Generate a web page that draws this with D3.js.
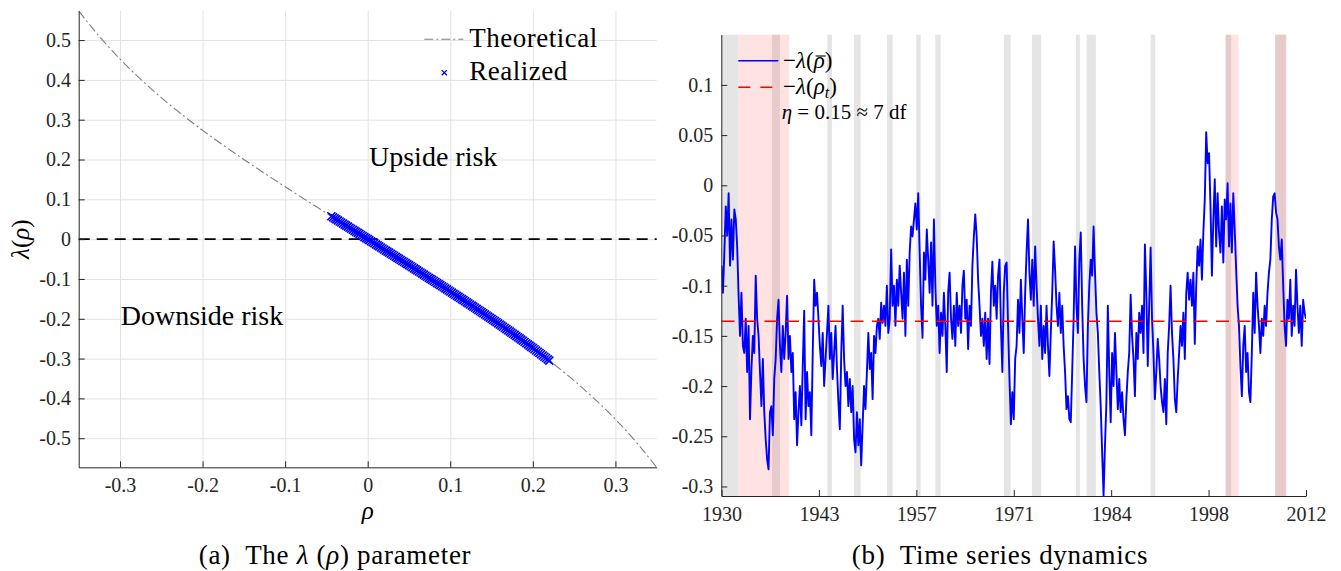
<!DOCTYPE html>
<html>
<head>
<meta charset="utf-8">
<script src="https://cdn.jsdelivr.net/npm/d3@7"></script>
<style>
body { margin: 0; background: #fff; }
svg { display: block; font-family: "Liberation Serif", "Times New Roman", serif; fill: #000; }
.axis text { font-size: 20px; fill: #262626; }
.axis path, .axis line { stroke: #262626; stroke-width: 1; }
.grid line { stroke: #e2e2e2; stroke-width: 1; }
.grid path { display: none; }
.it { font-style: italic; }
</style>
</head>
<body>
<svg id="chart" width="1341" height="571"></svg>
<script>
var serif = '"Liberation Serif", "Times New Roman", serif';

// ---- panel (a): lambda(rho) ----
var rhoTicks = [-0.3, -0.2, -0.1, 0, 0.1, 0.2, 0.3];
var rhoTickLabels = ["-0.3", "-0.2", "-0.1", "0", "0.1", "0.2", "0.3"];
var lamTicks = [-0.5, -0.4, -0.3, -0.2, -0.1, 0, 0.1, 0.2, 0.3, 0.4, 0.5];
var lamTickLabels = ["-0.5", "-0.4", "-0.3", "-0.2", "-0.1", "0", "0.1", "0.2", "0.3", "0.4", "0.5"];

var theoRho = [-0.35, -0.325, -0.3, -0.275, -0.25, -0.225, -0.2, -0.175, -0.15, -0.125, -0.1, -0.075, -0.05, -0.025, 0,
               0.025, 0.05, 0.075, 0.1, 0.125, 0.15, 0.175, 0.2, 0.225, 0.25, 0.275, 0.3, 0.325, 0.35];
var theoLambda = [0.5732, 0.5092, 0.4524, 0.4017, 0.3555, 0.3131, 0.2734, 0.2360, 0.2002, 0.1655, 0.1316, 0.0983, 0.0654, 0.0326, 0,
                  -0.0326, -0.0654, -0.0983, -0.1316, -0.1655, -0.2002, -0.2360, -0.2734, -0.3131, -0.3555, -0.4017, -0.4524, -0.5092, -0.5732];

var realRho = [-0.044, -0.042, -0.040, -0.038, -0.036, -0.034, -0.032, -0.030, -0.028, -0.026, -0.024, -0.022, -0.020, -0.018,
               -0.016, -0.014, -0.012, -0.010, -0.008, -0.006, -0.004, -0.002, 0, 0.002, 0.004, 0.006, 0.008, 0.010,
               0.012, 0.014, 0.016, 0.018, 0.020, 0.022, 0.024, 0.026, 0.028, 0.030, 0.032, 0.034, 0.036, 0.038,
               0.040, 0.042, 0.044, 0.046, 0.048, 0.050, 0.052, 0.054, 0.056, 0.058, 0.060, 0.062, 0.064, 0.066,
               0.068, 0.070, 0.072, 0.074, 0.076, 0.078, 0.080, 0.082, 0.084, 0.086, 0.088, 0.090, 0.092, 0.094,
               0.096, 0.098, 0.100, 0.102, 0.104, 0.106, 0.108, 0.110, 0.112, 0.114, 0.116, 0.118, 0.120, 0.122,
               0.124, 0.126, 0.128, 0.130, 0.132, 0.134, 0.136, 0.138, 0.140, 0.142, 0.144, 0.146, 0.148, 0.150,
               0.152, 0.154, 0.156, 0.158, 0.160, 0.162, 0.164, 0.166, 0.168, 0.170, 0.172, 0.174, 0.176, 0.178,
               0.180, 0.182, 0.184, 0.186, 0.188, 0.190, 0.192, 0.194, 0.196, 0.198, 0.200, 0.202, 0.204, 0.206,
               0.208, 0.210, 0.212, 0.214, 0.216, 0.218, 0.220];
var realLambda = [0.0575, 0.0549, 0.0523, 0.0497, 0.0470, 0.0444, 0.0418, 0.0392, 0.0366, 0.0340, 0.0313, 0.0287, 0.0261, 0.0235,
                  0.0209, 0.0183, 0.0157, 0.0131, 0.0104, 0.0078, 0.0052, 0.0026, 0, -0.0026, -0.0052, -0.0078, -0.0104, -0.0131,
                  -0.0157, -0.0183, -0.0209, -0.0235, -0.0261, -0.0287, -0.0313, -0.0340, -0.0366, -0.0392, -0.0418, -0.0444, -0.0470, -0.0497,
                  -0.0523, -0.0549, -0.0575, -0.0602, -0.0628, -0.0654, -0.0680, -0.0707, -0.0733, -0.0759, -0.0785, -0.0812, -0.0838, -0.0865,
                  -0.0891, -0.0918, -0.0944, -0.0971, -0.0997, -0.1024, -0.1050, -0.1077, -0.1103, -0.1130, -0.1156, -0.1183, -0.1209, -0.1236,
                  -0.1263, -0.1290, -0.1316, -0.1343, -0.1370, -0.1397, -0.1424, -0.1451, -0.1478, -0.1505, -0.1532, -0.1560, -0.1587, -0.1614,
                  -0.1641, -0.1669, -0.1696, -0.1724, -0.1751, -0.1779, -0.1806, -0.1834, -0.1862, -0.1890, -0.1918, -0.1946, -0.1974, -0.2002,
                  -0.2030, -0.2059, -0.2087, -0.2116, -0.2144, -0.2173, -0.2201, -0.2230, -0.2259, -0.2288, -0.2317, -0.2346, -0.2375, -0.2405,
                  -0.2434, -0.2464, -0.2493, -0.2523, -0.2553, -0.2583, -0.2613, -0.2644, -0.2674, -0.2704, -0.2734, -0.2766, -0.2797, -0.2828,
                  -0.2859, -0.2891, -0.2922, -0.2954, -0.2985, -0.3018, -0.3050];

// ---- panel (b): time series ----
var yearTicks = [1930, 1943.667, 1957.333, 1971, 1984.667, 1998.333, 2012];
var yearTickLabels = ["1930", "1943", "1957", "1971", "1984", "1998", "2012"];
var valTicks = [-0.3, -0.25, -0.2, -0.15, -0.1, -0.05, 0, 0.05, 0.1];
var valTickLabels = ["-0.3", "-0.25", "-0.2", "-0.15", "-0.1", "-0.05", "0", "0.05", "0.1"];

var seriesStart = 1930, seriesStep = 0.2;
var seriesValues = [
  -0.080,-0.107,-0.067,-0.021,-0.050, -0.008,-0.080,-0.034,-0.074,-0.024, -0.034,-0.061,-0.110,-0.150,-0.107,
  -0.160,-0.167,-0.133,-0.186,-0.140, -0.233,-0.183,-0.150,-0.167,-0.090, -0.133,-0.150,-0.186,-0.220,-0.173,
  -0.226,-0.253,-0.273,-0.283,-0.226, -0.220,-0.249,-0.193,-0.173,-0.133, -0.114,-0.160,-0.186,-0.140,-0.173,
  -0.147,-0.110,-0.173,-0.150,-0.186, -0.167,-0.233,-0.206,-0.259,-0.226, -0.200,-0.239,-0.180,-0.125,-0.233,
  -0.186,-0.220,-0.206,-0.249,-0.167, -0.094,-0.120,-0.107,-0.133,-0.160, -0.180,-0.147,-0.200,-0.173,-0.147,
  -0.120,-0.173,-0.147,-0.193,-0.167, -0.140,-0.183,-0.216,-0.243,-0.167, -0.120,-0.173,-0.200,-0.186,-0.220,
  -0.193,-0.226,-0.200,-0.253,-0.266, -0.226,-0.259,-0.233,-0.279,-0.239, -0.200,-0.223,-0.186,-0.147,-0.183,
  -0.167,-0.213,-0.150,-0.167,-0.140, -0.133,-0.153,-0.117,-0.137,-0.120, -0.140,-0.100,-0.147,-0.133,-0.064,
  -0.120,-0.100,-0.140,-0.094,-0.120, -0.080,-0.107,-0.133,-0.087,-0.150, -0.074,-0.120,-0.067,-0.041,-0.051,
  -0.034,-0.018,-0.044,-0.008,-0.067, -0.120,-0.152,-0.067,-0.094,-0.044, -0.074,-0.107,-0.057,-0.120,-0.034,
  -0.100,-0.140,-0.120,-0.167,-0.127, -0.150,-0.107,-0.140,-0.186,-0.107, -0.087,-0.133,-0.153,-0.120,-0.160,
  -0.107,-0.140,-0.120,-0.147,-0.100, -0.085,-0.133,-0.114,-0.163,-0.120, -0.140,-0.080,-0.051,-0.029,-0.051,
  -0.094,-0.120,-0.150,-0.133,-0.160, -0.127,-0.173,-0.133,-0.178,-0.107, -0.076,-0.120,-0.100,-0.133,-0.090,
  -0.074,-0.140,-0.186,-0.107,-0.080, -0.077,-0.140,-0.193,-0.238,-0.206, -0.233,-0.173,-0.160,-0.114,-0.147,
  -0.094,-0.133,-0.167,-0.107,-0.067, -0.034,-0.087,-0.114,-0.074,-0.120, -0.061,-0.100,-0.133,-0.160,-0.120,
  -0.173,-0.140,-0.167,-0.120,-0.160, -0.190,-0.147,-0.107,-0.056,-0.084, -0.120,-0.140,-0.107,-0.147,-0.120,
  -0.160,-0.186,-0.223,-0.210,-0.233, -0.236,-0.186,-0.133,-0.061,-0.120, -0.147,-0.074,-0.047,-0.120,-0.173,
  -0.200,-0.216,-0.140,-0.100,-0.074, -0.090,-0.041,-0.087,-0.127,-0.147, -0.186,-0.220,-0.266,-0.309,-0.259,
  -0.216,-0.120,-0.186,-0.236,-0.167, -0.200,-0.147,-0.186,-0.223,-0.193, -0.226,-0.206,-0.233,-0.249,-0.213,
  -0.186,-0.167,-0.109,-0.150,-0.173, -0.210,-0.147,-0.173,-0.127,-0.147, -0.120,-0.167,-0.059,-0.107,-0.180,
  -0.120,-0.062,-0.133,-0.167,-0.213, -0.186,-0.153,-0.173,-0.200,-0.216, -0.226,-0.193,-0.238,-0.167,-0.140,
  -0.100,-0.147,-0.173,-0.213,-0.226, -0.193,-0.167,-0.140,-0.160,-0.127, -0.173,-0.107,-0.087,-0.114,-0.094,
  -0.120,-0.087,-0.158,-0.100,-0.061, -0.080,-0.054,-0.094,-0.047,-0.014, 0.053,0.022,0.032,-0.021,-0.090,
  -0.034,0.006,-0.061,-0.008,-0.047, -0.067,-0.021,-0.077,-0.014,-0.034, 0.002,-0.061,-0.018,-0.067,-0.008,
  -0.044,-0.084,-0.120,-0.140,-0.180, -0.210,-0.160,-0.140,-0.186,-0.167, -0.206,-0.216,-0.167,-0.107,-0.147,
  -0.087,-0.120,-0.140,-0.167,-0.133, -0.150,-0.120,-0.140,-0.107,-0.087, -0.074,-0.034,-0.011,-0.008,-0.027,
  -0.034,-0.061,-0.074,-0.054,-0.100, -0.140,-0.160,-0.114,-0.133,-0.094, -0.150,-0.120,-0.140,-0.084,-0.120,
  -0.147,-0.120,-0.160,-0.114,-0.127, -0.133
];
var lambdaRhoT = -0.1355;

// recession shading (start, end) in years
var grayBands = [[1930, 1932.35], [1937.08, 1938.2], [1944.84, 1945.5], [1948.58, 1949.52], [1953.21, 1954.01],
                 [1957.32, 1957.94], [1959.99, 1960.74], [1969.62, 1970.56], [1973.55, 1974.85], [1979.71, 1980.27],
                 [1981.22, 1982.52], [1990.2, 1990.84], [2000.71, 2001.5], [2007.67, 2009.17]];
var pinkBands = [[1932.36, 1939.5], [2000.71, 2002.54], [2007.67, 2009.27]];

var svg = d3.select("#chart");
svg.append("rect").attr("width", 1341).attr("height", 571).attr("fill", "#fff");

// ================= panel (a) =================
var xL = d3.scaleLinear().domain([-0.35, 0.35]).range([78.7, 656.7]),
    yL = d3.scaleLinear().domain([-0.573, 0.573]).range([467.3, 11]);

var gA = svg.append("g");

gA.append("g")
    .attr("class", "grid")
    .attr("transform", "translate(0,467.3)")
    .call(d3.axisBottom(xL).tickValues(rhoTicks).tickSize(-(467.3 - 11)).tickFormat(""));
gA.append("g")
    .attr("class", "grid")
    .attr("transform", "translate(78.7,0)")
    .call(d3.axisLeft(yL).tickValues(lamTicks).tickSize(-(656.7 - 78.7)).tickFormat(""));

// zero line
gA.append("line")
    .attr("x1", xL(-0.35)).attr("x2", xL(0.35))
    .attr("y1", yL(0)).attr("y2", yL(0))
    .attr("stroke", "#000").attr("stroke-width", 1.6)
    .attr("stroke-dasharray", "11,7");

// theoretical curve
var theo = theoRho.map(function(r, i) { return [r, theoLambda[i]]; });
gA.append("path")
    .datum(theo)
    .attr("fill", "none")
    .attr("stroke", "#7f7f7f")
    .attr("stroke-width", 1.1)
    .attr("stroke-dasharray", "9,3,2,3")
    .attr("d", d3.line().curve(d3.curveMonotoneX)
        .x(function(d) { return xL(d[0]); })
        .y(function(d) { return yL(d[1]); }));

// realized points as x markers
var cross = function(s) { return "M" + (-s) + "," + (-s) + "L" + s + "," + s + "M" + (-s) + "," + s + "L" + s + "," + (-s); };
gA.selectAll(".real")
    .data(realRho.map(function(r, i) { return [r, realLambda[i]]; }))
    .enter().append("path")
    .attr("class", "real")
    .attr("transform", function(d) { return "translate(" + xL(d[0]) + "," + yL(d[1]) + ")"; })
    .attr("d", cross(4))
    .attr("stroke", "#0000ff")
    .attr("stroke-width", 1.6)
    .attr("fill", "none");

// axes
gA.append("g")
    .attr("class", "axis")
    .attr("transform", "translate(0,467.3)")
    .call(d3.axisBottom(xL).tickValues(rhoTicks).tickSizeInner(-6).tickSizeOuter(0).tickPadding(10.2)
        .tickFormat(function(d, i) { return rhoTickLabels[i]; }));
gA.append("g")
    .attr("class", "axis")
    .attr("transform", "translate(78.7,0)")
    .call(d3.axisLeft(yL).tickValues(lamTicks).tickSizeInner(-6).tickSizeOuter(0).tickPadding(7.7)
        .tickFormat(function(d, i) { return lamTickLabels[i]; }));

// axis labels
var yLab = gA.append("text")
    .attr("transform", "translate(29," + yL(0) + ") rotate(-90)")
    .attr("text-anchor", "middle")
    .style("font-size", "25px");
yLab.append("tspan").attr("class", "it").text("λ");
yLab.append("tspan").text("(");
yLab.append("tspan").attr("class", "it").text("ρ");
yLab.append("tspan").text(")");

gA.append("text")
    .attr("class", "it")
    .attr("x", xL(0)).attr("y", 519)
    .attr("text-anchor", "middle")
    .style("font-size", "25px")
    .text("ρ");

// annotations
gA.append("text").attr("x", 369).attr("y", 166).style("font-size", "28px").text("Upside risk");
gA.append("text").attr("x", 120.7).attr("y", 325).style("font-size", "28px").text("Downside risk");

// legend
gA.append("line")
    .attr("x1", 424.3).attr("x2", 463.3).attr("y1", 39.3).attr("y2", 39.3)
    .attr("stroke", "#7f7f7f").attr("stroke-width", 1.1).attr("stroke-dasharray", "9,3,2,3");
gA.append("text").attr("x", 469.3).attr("y", 47).style("font-size", "27px").style("letter-spacing", "0.5px").text("Theoretical");
gA.append("path")
    .attr("transform", "translate(444.3,72.7)")
    .attr("d", cross(2.6))
    .attr("stroke", "#0000ff").attr("stroke-width", 1.3);
gA.append("text").attr("x", 469.3).attr("y", 80).style("font-size", "27px").style("letter-spacing", "0.5px").text("Realized");

// caption (a)
var capA = svg.append("text")
    .attr("x", 335).attr("y", 564)
    .attr("text-anchor", "middle")
    .attr("xml:space", "preserve")
    .style("font-size", "27px")
    .style("letter-spacing", "0.7px");
capA.append("tspan").text("(a)  The ");
capA.append("tspan").attr("class", "it").text("λ");
capA.append("tspan").text(" (");
capA.append("tspan").attr("class", "it").text("ρ");
capA.append("tspan").text(") parameter");

// ================= panel (b) =================
var xR = d3.scaleLinear().domain([1930, 2012]).range([721.5, 1306]),
    yR = d3.scaleLinear().domain([-0.3095, 0.15]).range([496, 34.7]);

var gB = svg.append("g");

gB.append("defs").append("clipPath").attr("id", "clipB")
  .append("rect")
    .attr("x", xR(1930)).attr("y", yR(0.15))
    .attr("width", xR(2012) - xR(1930)).attr("height", yR(-0.3095) - yR(0.15));

gB.selectAll(".gray")
    .data(grayBands)
    .enter().append("rect")
    .attr("class", "gray")
    .attr("x", function(d) { return xR(d[0]); })
    .attr("width", function(d) { return xR(d[1]) - xR(d[0]); })
    .attr("y", yR(0.15))
    .attr("height", yR(-0.3095) - yR(0.15))
    .attr("fill", "#e5e5e5");

gB.selectAll(".pink")
    .data(pinkBands)
    .enter().append("rect")
    .attr("class", "pink")
    .attr("x", function(d) { return xR(d[0]); })
    .attr("width", function(d) { return xR(d[1]) - xR(d[0]); })
    .attr("y", yR(0.15))
    .attr("height", yR(-0.3095) - yR(0.15))
    .attr("fill", "rgba(255,0,0,0.11)");

gB.append("path")
    .datum(seriesValues)
    .attr("clip-path", "url(#clipB)")
    .attr("fill", "none")
    .attr("stroke", "#0000ff")
    .attr("stroke-width", 1.9)
    .attr("stroke-linejoin", "round")
    .attr("d", d3.line()
        .x(function(d, i) { return xR(seriesStart + i * seriesStep); })
        .y(function(d) { return yR(d); }));

gB.append("line")
    .attr("x1", xR(1930)).attr("x2", xR(2012))
    .attr("y1", yR(lambdaRhoT)).attr("y2", yR(lambdaRhoT))
    .attr("stroke", "#ff0000").attr("stroke-width", 1.4)
    .attr("stroke-dasharray", "13,8.5");

gB.append("g")
    .attr("class", "axis")
    .attr("transform", "translate(0,496)")
    .call(d3.axisBottom(xR).tickValues(yearTicks).tickSizeInner(-6).tickSizeOuter(0).tickPadding(10.5)
        .tickFormat(function(d, i) { return yearTickLabels[i]; }));
gB.append("g")
    .attr("class", "axis")
    .attr("transform", "translate(721.3,0)")
    .call(d3.axisLeft(yR).tickValues(valTicks).tickSizeInner(-6).tickSizeOuter(0).tickPadding(8)
        .tickFormat(function(d, i) { return valTickLabels[i]; }));

// force the serif face on every tick label
svg.selectAll(".axis").attr("font-family", null).attr("font-size", null);
svg.selectAll(".axis text").style("font-family", serif).style("font-size", "20px");

// legend (b)
gB.append("line")
    .attr("x1", 738.3).attr("x2", 778.3).attr("y1", 60.7).attr("y2", 60.7)
    .attr("stroke", "#0000ff").attr("stroke-width", 1.4);
var lb1 = gB.append("text").attr("x", 783).attr("y", 68).style("font-size", "23px");
lb1.append("tspan").text("−");
lb1.append("tspan").attr("class", "it").text("λ");
lb1.append("tspan").text("(");
lb1.append("tspan").attr("class", "it").text("ρ");
lb1.append("tspan").text(")");
// bar over rho
var rhoBox = lb1.node().getExtentOfChar(3);
gB.append("line")
    .attr("x1", rhoBox.x + 2).attr("x2", rhoBox.x + rhoBox.width + 1)
    .attr("y1", 56).attr("y2", 56)
    .attr("stroke", "#000").attr("stroke-width", 1.1);

gB.append("line")
    .attr("x1", 738.3).attr("x2", 778.3).attr("y1", 87.3).attr("y2", 87.3)
    .attr("stroke", "#ff0000").attr("stroke-width", 1.4).attr("stroke-dasharray", "12,10");
var lb2 = gB.append("text").attr("x", 783).attr("y", 94).style("font-size", "23px");
lb2.append("tspan").text("−");
lb2.append("tspan").attr("class", "it").text("λ");
lb2.append("tspan").text("(");
lb2.append("tspan").attr("class", "it").text("ρ");
lb2.append("tspan").attr("class", "it").attr("dy", 4).style("font-size", "16px").text("t");
lb2.append("tspan").attr("dy", -4).text(")");

var lb3 = gB.append("text").attr("x", 781.7).attr("y", 119).attr("xml:space", "preserve").style("font-size", "21px");
lb3.append("tspan").attr("class", "it").text("η");
lb3.append("tspan").text(" = 0.15 ≈ 7 df");

// caption (b)
svg.append("text")
    .attr("x", 1000).attr("y", 564)
    .attr("text-anchor", "middle")
    .attr("xml:space", "preserve")
    .style("font-size", "27px")
    .style("letter-spacing", "0.7px")
    .text("(b)  Time series dynamics");
</script>
</body>
</html>
